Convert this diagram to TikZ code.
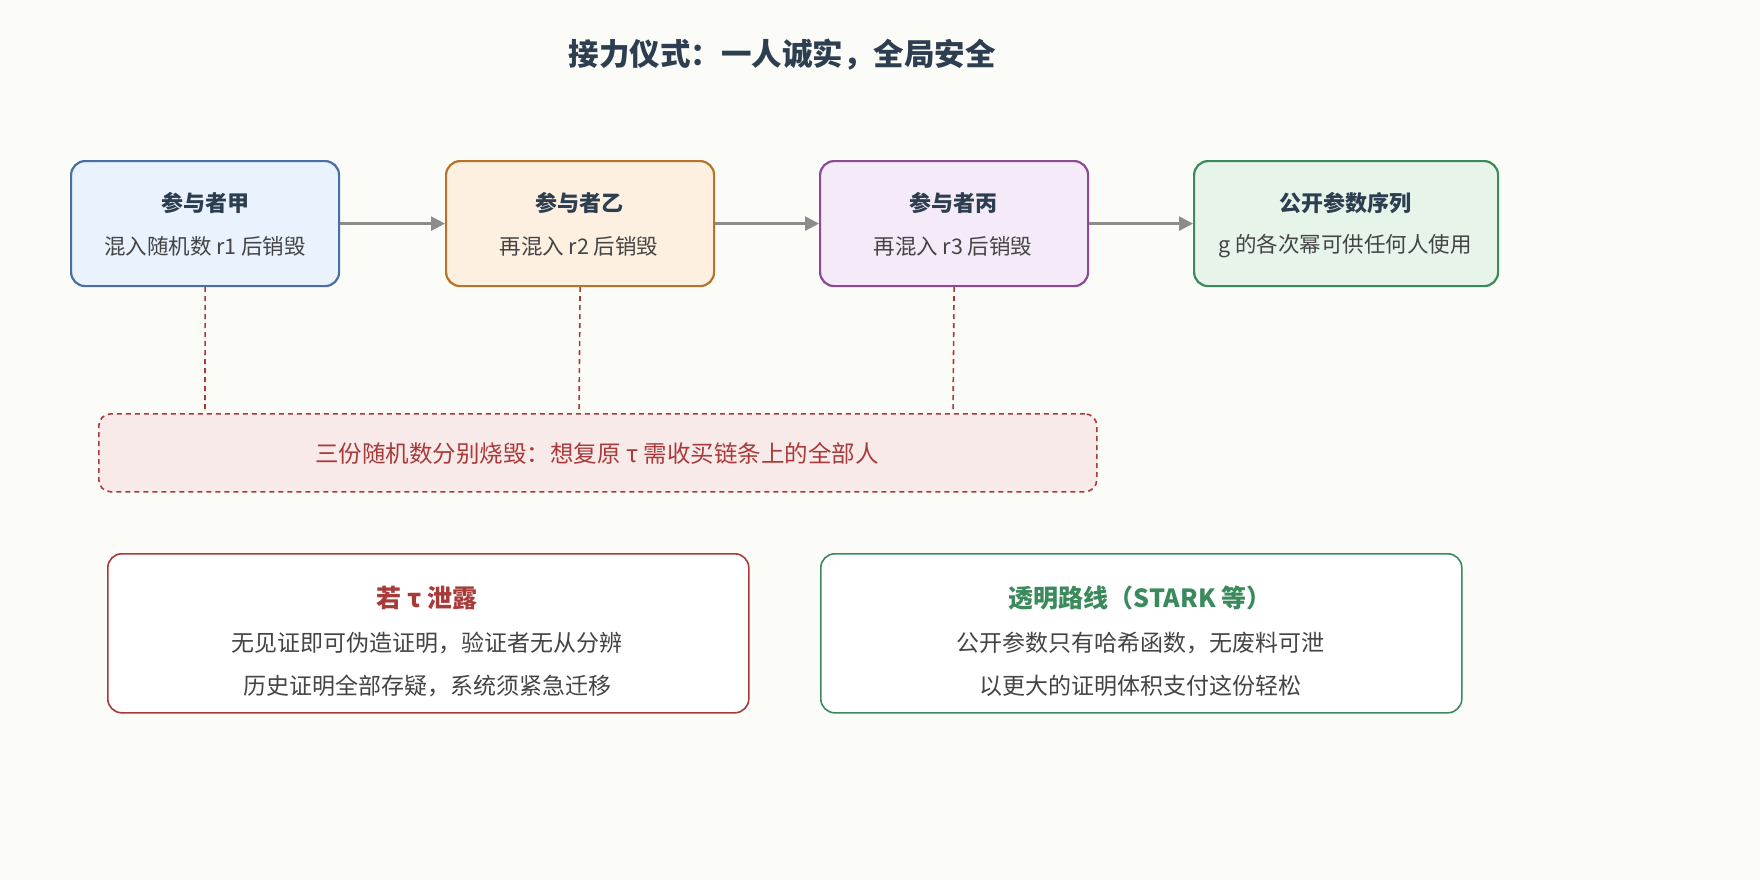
\documentclass[tikz,border=0pt]{standalone}
\usepackage{fontspec}
\setmainfont{Noto Sans CJK SC}
\usetikzlibrary{arrows.meta}
\definecolor{bg}{HTML}{FBFBF7}
\definecolor{ink}{HTML}{2C3E50}
\definecolor{txt}{HTML}{444444}
\definecolor{red1}{HTML}{A83A3A}
\definecolor{grn}{HTML}{3A8A5C}
\begin{document}
\begin{tikzpicture}[x=1pt,y=-1pt,
  box/.style={draw,line width=2.2pt,rounded corners=14pt,minimum width=268pt,minimum height=125pt,anchor=north west},
  hd/.style={font=\fontsize{22}{26}\selectfont\bfseries,text=ink},
  bd/.style={font=\fontsize{21.5}{26}\selectfont,text=txt},
  bd2/.style={font=\fontsize{23}{27}\selectfont,text=txt},
  arr/.style={draw=gray!90,line width=2.5pt,-{Triangle[length=14pt,width=14pt]}},
  dsh/.style={draw=red1,line width=1.6pt,dash pattern=on 5pt off 4pt}]
\fill[bg] (0,0) rectangle (1760,880);
\useasboundingbox (0,0) rectangle (1760,880);
\node[font=\fontsize{30.5}{34}\selectfont\bfseries,text=ink] (title) at (782,55) {接力仪式：一人诚实，全局安全};
\node[box,fill={rgb,255:red,234;green,242;blue,253},draw={rgb,255:red,74;green,111;blue,165}] (a) at (70,160) {};
\node[box,fill={rgb,255:red,253;green,240;blue,225},draw={rgb,255:red,181;green,116;blue,42}] (b) at (445,160) {};
\node[box,fill={rgb,255:red,245;green,234;blue,247},draw={rgb,255:red,138;green,74;blue,148}] (c) at (819,160) {};
\node[box,minimum width=304pt,fill={rgb,255:red,230;green,244;blue,234},draw=grn] (d) at (1193,160) {};
\node[hd] (at) at (205,203) {参与者甲};
\node[bd] (ab) at (205,246) {混入随机数 r1 后销毁};
\node[hd] (bt) at (579,203) {参与者乙};
\node[bd] (bb) at (579,246) {再混入 r2 后销毁};
\node[hd] (ct) at (953,203) {参与者丙};
\node[bd] (cb) at (953,246) {再混入 r3 后销毁};
\node[hd] (dt) at (1345,203) {公开参数序列};
\node[bd] (db) at (1345,246) {g 的各次幂可供任何人使用};
\draw[arr] (a.east) -- (b.west);
\draw[arr] (b.east) -- (c.west);
\draw[arr] (c.east) -- (d.west);
\node[draw=red1,line width=1.6pt,dash pattern=on 5pt off 4pt,rounded corners=12pt,fill={rgb,255:red,249;green,234;blue,234},minimum width=998pt,minimum height=78pt,anchor=north west] (e) at (98,413) {};
\node[font=\fontsize{23.5}{27}\selectfont,text=red1] (et) at (597,453) {三份随机数分别烧毁：想复原 τ 需收买链条上的全部人};
\coordinate (e1) at (205,413); \coordinate (e2) at (579,413); \coordinate (e3) at (953,413);
\draw[dsh] (a.south) -- (e1);
\draw[dsh] (b.south) -- (e2);
\draw[dsh] (c.south) -- (e3);
\node[draw=red1,line width=1.6pt,rounded corners=14pt,fill=white,minimum width=641pt,minimum height=159pt,anchor=north west] (f) at (107,553) {};
\node[draw=grn,line width=1.6pt,rounded corners=14pt,fill=white,minimum width=641pt,minimum height=159pt,anchor=north west] (g) at (820,553) {};
\node[font=\fontsize{25}{29}\selectfont\bfseries,text=red1] (ft) at (427,598) {若 τ 泄露};
\node[bd2] (f1) at (427,643) {无见证即可伪造证明，验证者无从分辨};
\node[bd2] (f2) at (427,686) {历史证明全部存疑，系统须紧急迁移};
\node[font=\fontsize{25}{29}\selectfont\bfseries,text=grn] (gt) at (1140,598) {透明路线（STARK 等）};
\node[bd2] (g1) at (1140,643) {公开参数只有哈希函数，无废料可泄};
\node[bd2] (g2) at (1140,686) {以更大的证明体积支付这份轻松};
\end{tikzpicture}
\end{document}
